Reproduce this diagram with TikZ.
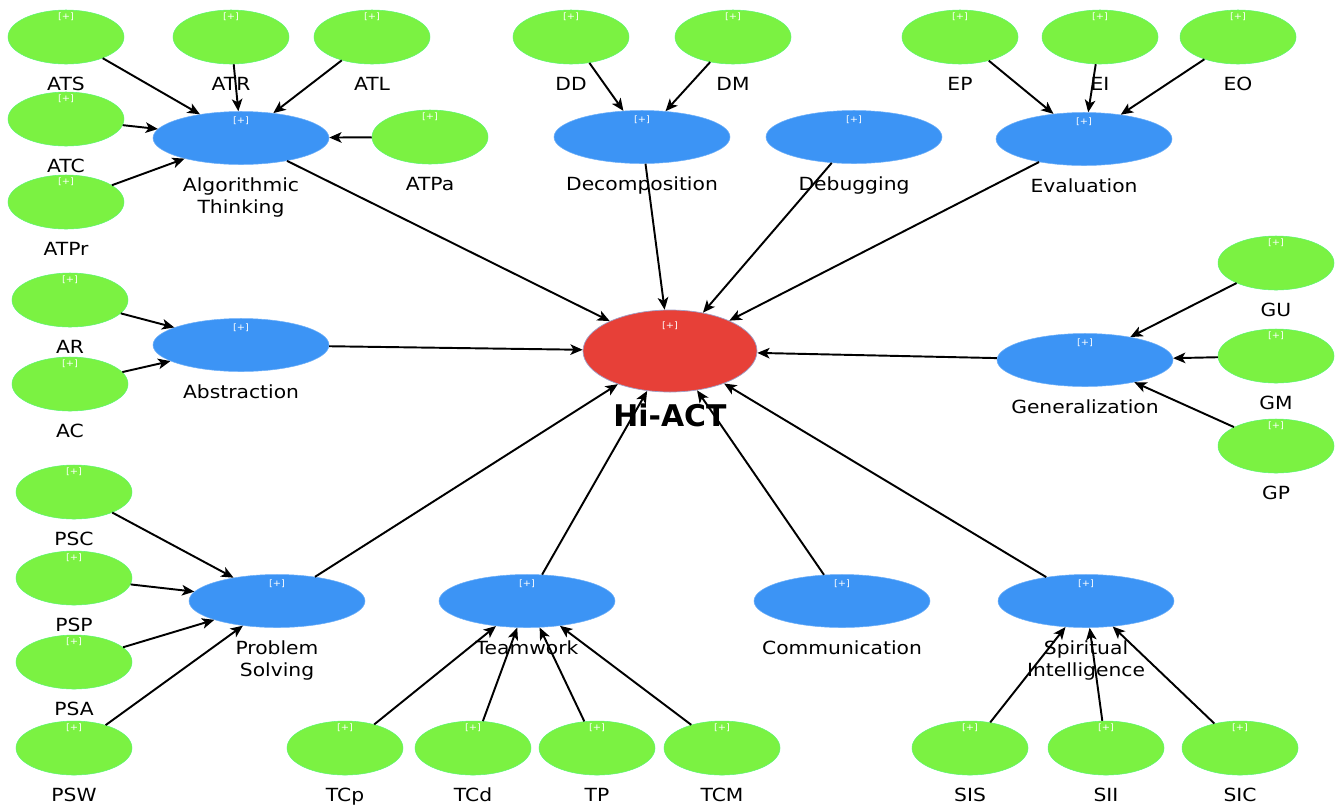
\documentclass[tikz,border=0pt]{standalone}
\usepackage{fontspec}
\setmainfont{DejaVu Sans}[FakeStretch=1.12]
\newfontfamily\hifont{DejaVu Sans}
\usepackage{tikz}
\usetikzlibrary{shapes.geometric,arrows.meta}
\definecolor{indgreen}{RGB}{123,242,66}
\definecolor{latblue}{RGB}{60,148,245}
\definecolor{hired}{RGB}{231,64,56}
\tikzset{
  tag/.style={font=\fontsize{5}{5}\selectfont, text=white, inner sep=0pt},
  lbl/.style={font=\fontsize{10.3}{12.5}\selectfont, align=center, inner sep=0pt, yshift=-2.5mm},
  ind/.style={ellipse, fill=indgreen, draw=indgreen!75!cyan, line width=0.3pt, minimum width=23.2mm, minimum height=10.8mm, inner sep=0pt, label={[tag,yshift=4mm]center:{[+]}}},
  lat/.style={ellipse, fill=latblue, draw=latblue!75!white, line width=0.3pt, minimum width=35.2mm, minimum height=10.6mm, inner sep=0pt, label={[tag,yshift=3.4mm]center:{[+]}}},
  goal/.style={ellipse, fill=hired, draw=blue!25!gray!60, line width=0.4pt, minimum width=34.8mm, minimum height=16.4mm, inner sep=0pt, label={[tag,yshift=5mm]center:{[+]}}},
  link/.style={-{Stealth[length=7pt,width=6pt,inset=1.8pt]}, line width=1.1pt},
}

\begin{document}
\begin{tikzpicture}[x=0.2mm, y=-0.2mm]
    \useasboundingbox (0,0) rectangle (1340,806);

    % target construct
    \node [goal, label={[lbl, yshift=0.2mm, font=\hifont\bfseries\fontsize{17}{20}\selectfont]below:Hi-ACT}] (hiact) at (670,351) {};

    % latent constructs
    \node [lat, label={[lbl]below:Algorithmic\\Thinking}] (at) at (241,138) {};
    \node [lat, label={[lbl]below:Decomposition}] (dec) at (642,137) {};
    \node [lat, label={[lbl]below:Debugging}] (deb) at (854,137) {};
    \node [lat, label={[lbl]below:Evaluation}] (eva) at (1084,139) {};
    \node [lat, label={[lbl]below:Abstraction}] (abst) at (241,345) {};
    \node [lat, label={[lbl]below:Generalization}] (gen) at (1085,360) {};
    \node [lat, label={[lbl]below:Problem\\Solving}] (ps) at (277,601) {};
    \node [lat, label={[lbl]below:Teamwork}] (tw) at (527,601) {};
    \node [lat, label={[lbl]below:Communication}] (com) at (842,601) {};
    \node [lat, label={[lbl]below:Spiritual\\Intelligence}] (si) at (1086,601) {};

    % indicators
    \node [ind, label={[lbl]below:ATS}] (ats) at (66,37) {};
    \node [ind, label={[lbl]below:ATR}] (atr) at (231,37) {};
    \node [ind, label={[lbl]below:ATL}] (atl) at (372,37) {};
    \node [ind, label={[lbl]below:ATC}] (atc) at (66,119) {};
    \node [ind, label={[lbl]below:ATPr}] (atpr) at (66,202) {};
    \node [ind, label={[lbl]below:ATPa}] (atpa) at (430,137) {};
    \node [ind, label={[lbl]below:DD}] (dd) at (571,37) {};
    \node [ind, label={[lbl]below:DM}] (dm) at (733,37) {};
    \node [ind, label={[lbl]below:EP}] (ep) at (960,37) {};
    \node [ind, label={[lbl]below:EI}] (ei) at (1100,37) {};
    \node [ind, label={[lbl]below:EO}] (eo) at (1238,37) {};
    \node [ind, label={[lbl]below:AR}] (ar) at (70,300) {};
    \node [ind, label={[lbl]below:AC}] (ac) at (70,384) {};
    \node [ind, label={[lbl]below:GU}] (gu) at (1276,263) {};
    \node [ind, label={[lbl]below:GM}] (gm) at (1276,356) {};
    \node [ind, label={[lbl]below:GP}] (gp) at (1276,446) {};
    \node [ind, label={[lbl]below:PSC}] (psc) at (74,492) {};
    \node [ind, label={[lbl]below:PSP}] (psp) at (74,578) {};
    \node [ind, label={[lbl]below:PSA}] (psa) at (74,662) {};
    \node [ind, label={[lbl]below:PSW}] (psw) at (74,748) {};
    \node [ind, label={[lbl]below:TCp}] (tcp) at (345,748) {};
    \node [ind, label={[lbl]below:TCd}] (tcd) at (473,748) {};
    \node [ind, label={[lbl]below:TP}] (tp) at (597,748) {};
    \node [ind, label={[lbl]below:TCM}] (tcm) at (722,748) {};
    \node [ind, label={[lbl]below:SIS}] (sis) at (970,748) {};
    \node [ind, label={[lbl]below:SII}] (sii) at (1106,748) {};
    \node [ind, label={[lbl]below:SIC}] (sic) at (1240,748) {};

    % indicator -> construct
    \foreach \s in {ats,atr,atl,atc,atpr,atpa} \draw [link] (\s) -- (at);
    \foreach \s in {dd,dm} \draw [link] (\s) -- (dec);
    \foreach \s in {ep,ei,eo} \draw [link] (\s) -- (eva);
    \foreach \s in {ar,ac} \draw [link] (\s) -- (abst);
    \foreach \s in {gu,gm,gp} \draw [link] (\s) -- (gen);
    \foreach \s in {psc,psp,psa,psw} \draw [link] (\s) -- (ps);
    \foreach \s in {tcp,tcd,tp,tcm} \draw [link] (\s) -- (tw);
    \foreach \s in {sis,sii,sic} \draw [link] (\s) -- (si);

    % construct -> Hi-ACT
    \foreach \s in {at,dec,deb,eva,abst,gen,ps,tw,com,si} \draw [link] (\s) -- (hiact);
\end{tikzpicture}
\end{document}
